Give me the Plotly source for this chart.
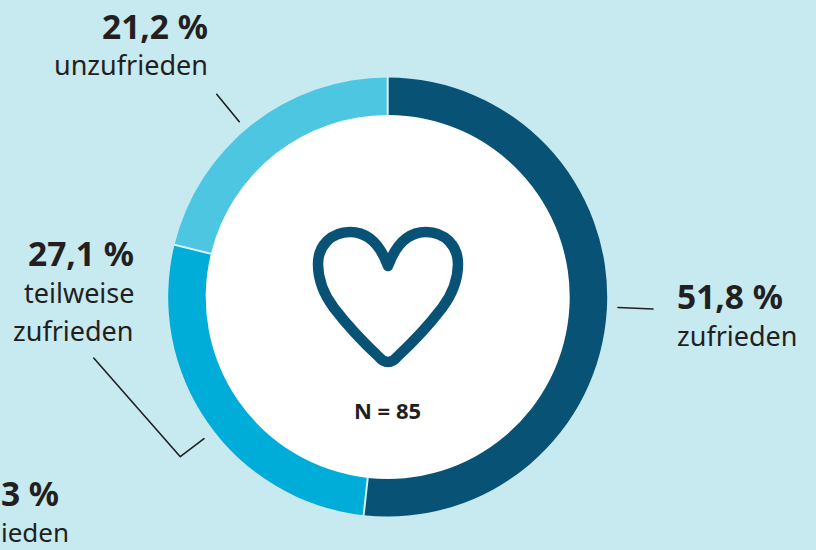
import math
import plotly.graph_objects as go

categories = ["zufrieden", "teilweise zufrieden", "unzufrieden"]
values = [51.8, 27.1, 21.2]
value_labels = ["51,8 %", "27,1 %", "21,2 %"]
colors = ["#085275", "#00acd8", "#4dc6e2"]
BG = "#c7e9f0"
INK = "#231f20"
FONT = "Noto Sans"
W, H = 816, 550
CX, CY, RO, RI = 387.7, 297, 219.5, 182


def px(x):
    return x / W


def py(y):
    return 1 - y / H


def path(points):
    return "M" + " L".join(f"{px(x):.5f},{py(y):.5f}" for x, y in points)


heart = [
    [(388, 266)],
    [(380, 244), (368, 232), (350, 232)],
    [(331, 232), (318, 246), (318, 264)],
    [(318, 280), (325, 296), (334, 308)],
    [(347, 325), (364, 343), (379, 357)],
    [(384, 363.5), (392, 363.5), (397, 357)],
    [(412, 343), (429, 325), (442, 308)],
    [(451, 296), (458, 280), (458, 264)],
    [(458, 246), (445, 232), (426, 232)],
    [(408, 232), (396, 244), (388, 266)],
]
heart_path = f"M{px(heart[0][0][0]):.5f},{py(heart[0][0][1]):.5f} " + " ".join(
    "C" + " ".join(f"{px(x):.5f},{py(y):.5f}" for x, y in seg) for seg in heart[1:]
)

leaders = [
    [(618, 307.5), (653, 309)],
    [(93.7, 358), (180.3, 456.7), (204, 438.7)],
    [(216.7, 94.3), (239.3, 121.7)],
]

shapes = [
    dict(type="circle", layer="below", xref="paper", yref="paper",
         x0=px(CX - 195), x1=px(CX + 195), y0=py(CY + 195), y1=py(CY - 195),
         fillcolor="white", line=dict(width=0)),
    dict(type="path", xref="paper", yref="paper", path=heart_path,
         line=dict(color=colors[0], width=10.5)),
]
for pts in leaders:
    shapes.append(dict(type="path", xref="paper", yref="paper", path=path(pts),
                       line=dict(color=INK, width=1.6)))

# separators between the ring segments, from the cumulative shares
total = sum(values)
cum = 0
for v in values:
    a = 2 * math.pi * cum / total
    cum += v
    shapes.append(dict(type="line", xref="paper", yref="paper",
                       x0=px(CX + RI * math.sin(a)), y0=py(CY - RI * math.cos(a)),
                       x1=px(CX + RO * math.sin(a)), y1=py(CY - RO * math.cos(a)),
                       line=dict(color="#d6f0f5", width=2)))


def label(x, y, text, size, bold=False, anchor="right"):
    return dict(xref="paper", yref="paper", x=px(x), y=py(y), text=f"<b>{text}</b>" if bold else text,
                showarrow=False, xanchor=anchor, yanchor="middle",
                font=dict(family=FONT, size=size, color=INK), align=anchor)


annotations = [
    label(210, 26, value_labels[2], 33.5, True),
    label(210, 65, categories[2], 27),
    label(136, 252.5, value_labels[1], 33.5, True),
    label(136, 292, "teilweise", 27),
    label(136, 330, "zufrieden", 27),
    label(675, 296, value_labels[0], 33.5, True, "left"),
    label(675, 335, categories[0], 27, False, "left"),
    label(61, 493, "3 %", 33.5, True),
    label(71, 532, "ieden", 26),
    label(387.7, 409.5, "N = 85", 22, True, "center"),
]

fig = go.Figure(go.Pie(
    labels=categories, values=values, sort=False, direction="clockwise", rotation=0,
    hole=RI / RO, textinfo="none", hoverinfo="skip",
    marker=dict(colors=colors, line=dict(width=0)),
    domain=dict(x=[px(CX - RO), px(CX + RO)], y=[py(CY + RO), py(CY - RO)]),
))
fig.update_layout(
    width=W, height=H, margin=dict(l=0, r=0, t=0, b=0),
    paper_bgcolor=BG, showlegend=False, shapes=shapes, annotations=annotations,
)
fig.write_html(
    "out.html",
    config={"displayModeBar": False},
    post_script=(
        "document.body.style.margin='0';document.body.style.overflow='hidden';"
        "document.querySelectorAll('.shapelayer path').forEach(p=>{"
        "p.style.strokeLinejoin='round';p.style.strokeLinecap='round';});"
    ),
)
